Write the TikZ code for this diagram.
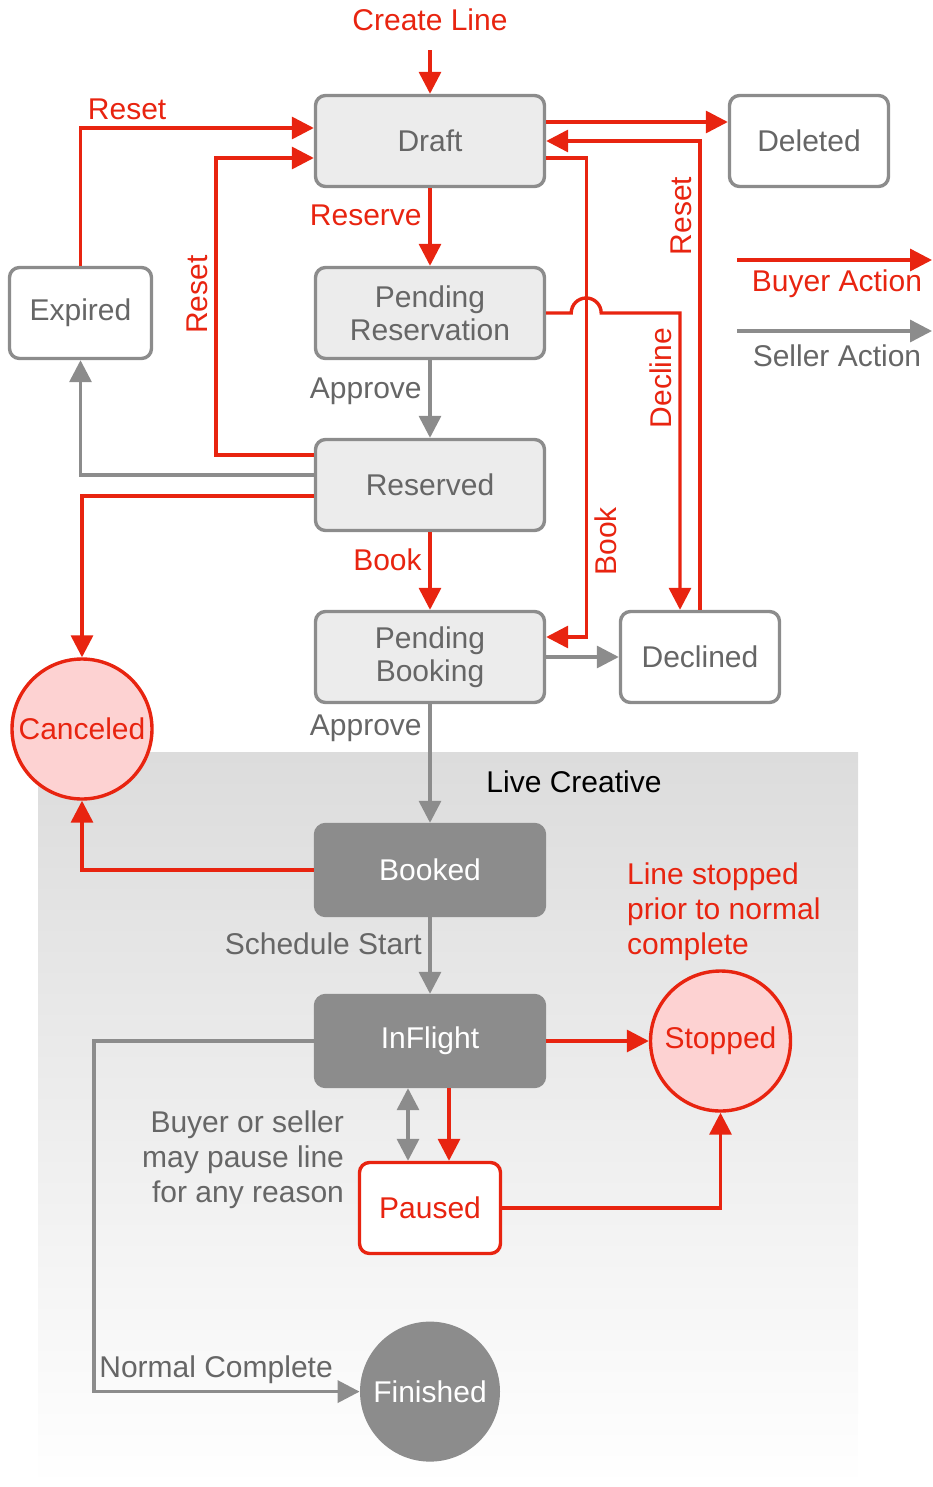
\documentclass[tikz,border=0pt]{standalone}
\usepackage{fontspec}
\setmainfont{Liberation Sans}
\usepackage{xcolor}
\definecolor{colorBuyer}{RGB}{232,36,16}
\definecolor{colorSeller}{RGB}{140,140,140}
\definecolor{colorFill}{RGB}{236,236,236}
\definecolor{colorText}{RGB}{102,102,102}
\definecolor{colorPink}{RGB}{253,210,210}
\definecolor{colorLive}{RGB}{220,220,220}
\usetikzlibrary{arrows.meta, positioning}
\tikzset{
  bigtri/.tip={Triangle[length=11pt,width=11pt]},
  every node/.style={font=\fontsize{15}{17.5}\selectfont},
  statebox/.style={draw=colorSeller, fill=colorFill, text=colorText, rounded corners=5pt, line width=1.7pt, minimum width=114.5pt, minimum height=45.5pt, inner sep=2pt, align=center, font=\fontsize{15}{16.5}\selectfont},
  plainbox/.style={statebox, fill=white, minimum width=79.5pt},
  livebox/.style={statebox, fill=colorSeller, text=white},
  endcircle/.style={circle, draw=colorBuyer, fill=colorPink, text=colorBuyer, line width=1.7pt, minimum size=70pt, inner sep=0pt},
  buyer/.style={draw=colorBuyer, line width=1.7pt, -bigtri},
  seller/.style={draw=colorSeller, line width=1.7pt, -bigtri}
}
\begin{document}
\begin{tikzpicture}[x=0.5pt, y=0.5pt]
\useasboundingbox (0,0) rectangle (932,-1487);
\shade[top color=colorLive, bottom color=white] (38,-752) rectangle (858,-1487);

\node[statebox] (draft) at (430,-141) {Draft};
\node[plainbox, right=90.8pt of draft] (deleted) {Deleted};
\node[statebox, below=38.8pt of draft] (pendres) {Pending\\Reservation};
\node[plainbox, minimum width=71pt, left=80.3pt of pendres] (expired) {Expired};
\node[statebox, below=38.8pt of pendres] (reserved) {Reserved};
\node[statebox, below=38.8pt of reserved] (pendbook) {Pending\\Booking};
\node[plainbox, right=36.3pt of pendbook] (declined) {Declined};
\node[endcircle] (canceled) at (82,-729) {Canceled};
\node[livebox, below=59.3pt of pendbook] (booked) {Booked};
\node[livebox, below=38.3pt of booked] (inflight) {InFlight};
\node[endcircle, right=51.3pt of inflight] (stopped) {Stopped};
\node[statebox, fill=white, draw=colorBuyer, text=colorBuyer, minimum width=70.5pt, below=36.3pt of inflight] (paused) {Paused};
\node[circle, fill=colorSeller, text=white, minimum size=70pt, inner sep=0pt, below=33pt of paused] (finished) {Finished};

\node[text=colorBuyer] (create) at (430,-20) {Create Line};
\node (live) at (574,-782) {Live Creative};
\node[text=colorBuyer, align=left, anchor=west] (stopnote) at (620,-912) {Line stopped\\prior to normal\\complete};
\node[text=colorText, align=right, anchor=east] (pausenote) at (351,-1160) {Buyer or seller\\may pause line\\for any reason};

\coordinate (buyerA) at (737,-260);
\coordinate (buyerB) at (932,-260);
\coordinate (sellerA) at (737,-331);
\coordinate (sellerB) at (932,-331);
\draw[buyer] (buyerA) -- (buyerB);
\draw[seller] (sellerA) -- (sellerB);
\node[text=colorBuyer] (buyerlabel) at (837,-284) {Buyer Action};
\node[text=colorText] (sellerlabel) at (837,-356) {Seller Action};

\draw[buyer, shorten <=6pt] (create) -- (draft);
\draw[buyer] (expired.north) |- ([yshift=6.5pt]draft.west) node[pos=0.6, above, text=colorBuyer] {Reset};
\draw[buyer] ([yshift=15pt]reserved.west) -- ++(-98,0) |- ([yshift=-8.5pt]draft.west) node[pos=0.27, rotate=90, above, text=colorBuyer] {Reset};
\draw[buyer] (draft) -- (pendres) node[pos=0.35, left, text=colorBuyer] {Reserve};
\draw[buyer] ([yshift=9.5pt]draft.east) -- ([yshift=9.5pt]deleted.west);
\draw[buyer] (declined.north) |- (draft.east) node[pos=0.42, rotate=90, above, text=colorBuyer] {Reset};
\draw[buyer] ([yshift=-8.5pt]draft.east) -- ++(40,0) |- ([yshift=10pt]pendbook.east) node[pos=0.4, rotate=90, below, text=colorBuyer] {Book};
\draw[buyer] (pendres.east) -- ++(25,0) arc[start angle=180, end angle=0, radius=15] -| ([xshift=-10pt]declined.north) node[pos=0.61, rotate=90, above, text=colorBuyer] {Decline};
\draw[seller] (pendres) -- (reserved) node[pos=0.4, left, text=colorText] {Approve};
\draw[seller] ([yshift=5pt]reserved.west) -| (expired.south);
\draw[buyer] ([yshift=-5.5pt]reserved.west) -| (canceled.north);
\draw[buyer] (reserved) -- (pendbook) node[pos=0.35, left, text=colorBuyer] {Book};
\draw[seller] (pendbook.east) -- (declined.west);
\draw[seller] (pendbook) -- (booked) node[pos=0.2, left, text=colorText] {Approve};
\draw[buyer] (booked.west) -| (canceled.south);
\draw[seller] (booked) -- (inflight) node[pos=0.35, left, text=colorText] {Schedule Start};
\draw[buyer] (inflight.east) -- (stopped.west);
\draw[seller, bigtri-bigtri] ([xshift=-11pt]inflight.south) -- ([xshift=-11pt]paused.north);
\draw[buyer] ([xshift=9.5pt]inflight.south) -- ([xshift=9.5pt]paused.north);
\draw[buyer] (paused.east) -| (stopped.south);
\draw[seller] (inflight.west) -- ++(-220,0) |- (finished.west) node[pos=0.73, above, text=colorText] {Normal Complete};
\end{tikzpicture}
\end{document}
